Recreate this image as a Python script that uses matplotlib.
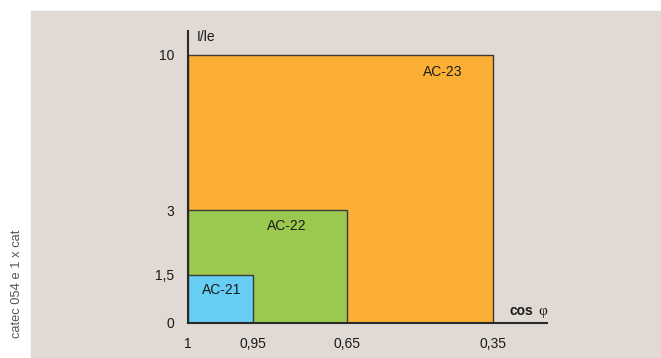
import numpy as np
import matplotlib.pyplot as plt
from matplotlib.patches import Rectangle

plt.rcParams['font.family'] = ['Liberation Sans', 'DejaVu Sans']

# categories and limits
categories = ['AC-21', 'AC-22', 'AC-23']
cos_limits = [0.95, 0.65, 0.35]
current_limits = [1.5, 3, 10]
colors = ['#66cdf3', '#9bc94f', '#fbb035']
label_pos = [(0.974, 1.03), (0.841, 2.63), (0.453, 9.23)]

x_ticks = [1, 0.95, 0.65, 0.35]
x_labels = ['1', '0,95', '0,65', '0,35']
y_ticks = [0, 1.5, 3, 10]
y_labels = ['0', '1,5', '3', '10']

# piecewise axis spacing (the drawing is not to scale)
xv = [0.0, 0.35, 0.65, 0.95, 1.0]
xp = [475, 305, 159, 65, 0]
yv = [0, 1.5, 3, 10, 12]
yp = [0, 48, 113, 268, 312]


def xf(v):
    return np.interp(v, xv, xp)


def xi(p):
    return np.interp(p, xp[::-1], xv[::-1])


def yf(v):
    return np.interp(v, yv, yp)


def yi(p):
    return np.interp(p, yp, yv)


fig = plt.figure(figsize=(6.61, 3.58), dpi=100)
bg = Rectangle((31 / 661, 0), 1 - 31 / 661, 347 / 358,
               transform=fig.transFigure, color='#e0d9d4', zorder=-10)
fig.patches.append(bg)
fig.text(17 / 661, 1 - 284 / 358, 'catec 054 e 1 x cat', rotation=90,
         ha='center', va='center', fontsize=9.3, color='#555555')

ax = fig.add_axes([188 / 661, 35 / 358, 359 / 661, 292 / 358])
ax.patch.set_alpha(0)
ax.set_xscale('function', functions=(xf, xi))
ax.set_yscale('function', functions=(yf, yi))
ax.set_xlim(xi(359), 1)
ax.set_ylim(0, yi(292))

for cat, xl, yl, c, (tx, ty) in reversed(list(zip(categories, cos_limits, current_limits, colors, label_pos))):
    ax.fill_between([1, xl], 0, yl, facecolor=c, edgecolor='#3a3a3a', linewidth=1)
    ax.text(tx, ty, cat, ha='center', va='center', fontsize=10, color='#1a1a1a')

ax.set_xticks(x_ticks)
ax.set_xticklabels(x_labels)
ax.set_yticks(y_ticks)
ax.set_yticklabels(y_labels)
ax.minorticks_off()
ax.tick_params(length=0, labelsize=10, colors='#1a1a1a')
ax.tick_params(axis='x', pad=10)
ax.tick_params(axis='y', pad=10)

for s in ['top', 'right']:
    ax.spines[s].set_visible(False)
for s in ['left', 'bottom']:
    ax.spines[s].set_color('#2a2a2a')
    ax.spines[s].set_linewidth(1.5)
    ax.spines[s].set_zorder(5)

ax.text(9 / 359, 1 - 6 / 292, 'I/le', transform=ax.transAxes, ha='left', va='center',
        fontsize=10, color='#1a1a1a')
ax.text(1 - 37 / 359, 5 / 292, 'cos', transform=ax.transAxes,
        ha='left', va='bottom', fontsize=10, fontweight='bold', color='#1a1a1a')
ax.text(1 - 9 / 359, 5 / 292, 'φ', transform=ax.transAxes, family=['Liberation Serif', 'DejaVu Serif'],
        ha='left', va='bottom', fontsize=11, color='#1a1a1a')

fig.savefig('out.png', dpi=100)
